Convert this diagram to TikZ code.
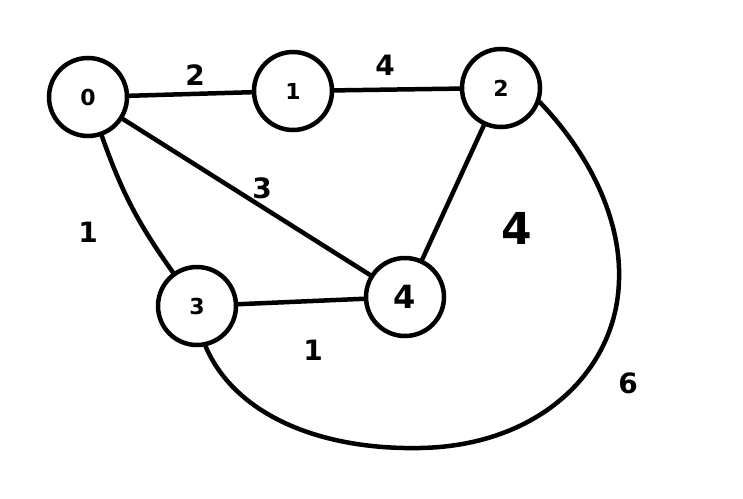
\documentclass[tikz,border=0pt]{standalone}
\usepackage{fontspec}
\setmainfont{DejaVu Sans}
\begin{document}
\begin{tikzpicture}[x=1pt,y=-1pt,
  vertex/.style={draw,circle,line width=4.5pt,minimum size=78pt,inner sep=0pt,font=\bfseries\fontsize{22}{22}\selectfont},
  edge/.style={line width=4.5pt,line cap=round},
  wlabel/.style={font=\bfseries\fontsize{28}{28}\selectfont,inner sep=0pt}]
\useasboundingbox (0,0) rectangle (743,498);
\node[vertex] (n0) at (88,97) {0};
\node[vertex] (n1) at (293,91) {1};
\node[vertex] (n2) at (501,88) {2};
\node[vertex] (n3) at (197,306) {3};
\node[vertex,font=\bfseries\fontsize{32}{32}\selectfont] (n4) at (405,297) {4};
\draw[edge] (n0) -- (n1);
\draw[edge] (n1) -- (n2);
\draw[edge] (n0) to[bend right=8] (n3);
\draw[edge] (n0) -- (n4);
\draw[edge] (n3) -- (n4);
\draw[edge] (n2) -- (n4);
\coordinate (c1) at (619,280);
\coordinate (c3) at (420,448);
\draw[edge] (n2.-20) .. controls (595,160) and (621,225) .. (c1)
  .. controls (617,370) and (540,446) .. (c3)
  .. controls (320,450) and (235,415) .. (n3.-78);
\node[wlabel] (l01) at (195,75) {2};
\node[wlabel] (l12) at (385,65) {4};
\node[wlabel] (l04) at (262,188) {3};
\node[wlabel] (l03) at (88,232) {1};
\node[wlabel] (l34) at (313,350) {1};
\node[wlabel,font=\bfseries\fontsize{44}{44}\selectfont] (l24) at (517,228) {4};
\node[wlabel] (l23) at (628,383) {6};
\end{tikzpicture}
\end{document}
